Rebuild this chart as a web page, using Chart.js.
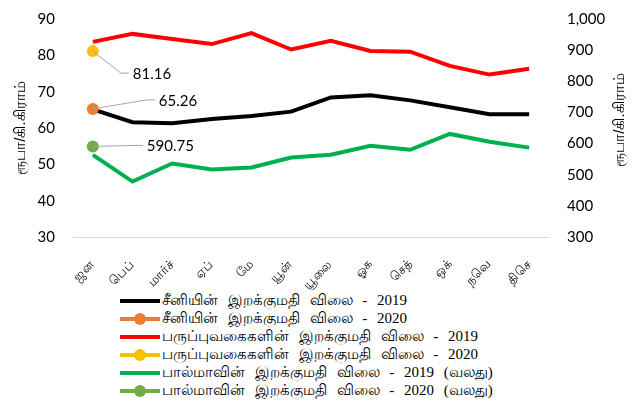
<!DOCTYPE html>
<html>
<head>
<meta charset="utf-8">
<script src="https://cdn.jsdelivr.net/npm/chart.js"></script>
<style>
  body { margin: 0; background: #fff; }
  #wrap { position: relative; width: 636px; height: 403px; }
  #box { position: absolute; left: 0; top: 0; width: 636px; height: 290px; }
  #legend { position: absolute; left: 120px; top: 292px; font: 15px "Liberation Serif", serif; color: #000; }
  .row { height: 18px; display: flex; align-items: center; white-space: nowrap; word-spacing: 6px; }
  .swatch { position: relative; width: 40px; height: 18px; margin-right: 2px; }
  .swatch .ln { position: absolute; left: 0; right: 0; top: 7px; height: 4px; }
  .swatch .dot { position: absolute; left: 14px; top: 3px; width: 12px; height: 12px; border-radius: 50%; }
</style>
</head>
<body>
<div id="wrap">
  <div id="box"><canvas id="myChart"></canvas></div>
  <div id="legend"></div>
</div>
<script>
  const months = ['ஜன', 'பெப்', 'மார்ச்', 'ஏப்', 'மே', 'யூன்', 'யூலை', 'ஓக', 'செத்', 'ஒக்', 'நவெ', 'திசெ'];
  const sugar2019 = [65.1, 61.6, 61.3, 62.5, 63.3, 64.5, 68.4, 69.0, 67.6, 65.7, 63.8, 63.8];
  const sugar2020 = [65.26, null, null, null, null, null, null, null, null, null, null, null];
  const dhal2019 = [83.7, 85.9, 84.5, 83.1, 86.1, 81.6, 84.0, 81.2, 81.0, 77.1, 74.7, 76.3];
  const dhal2020 = [81.16, null, null, null, null, null, null, null, null, null, null, null];
  const milk2019 = [564, 478, 536, 517, 523, 555, 564, 593, 580, 631, 606, 587];
  const milk2020 = [590.75, null, null, null, null, null, null, null, null, null, null, null];
  const leftTicks = [30, 40, 50, 60, 70, 80, 90];
  const rightTicks = [300, 400, 500, 600, 700, 800, 900, 1000];
  const unitLabel = 'ரூபா/கி.கிராம்';

  const tickFont = { family: 'Lato, "Open Sans", sans-serif', size: 15 };

  // leader lines + value labels for the single 2020 points
  const calloutPlugin = {
    id: 'callouts',
    afterDatasetsDraw(chart, args, opts) {
      const ctx = chart.ctx;
      ctx.save();
      opts.items.forEach(it => {
        const pt = chart.getDatasetMeta(it.dataset).data[0];
        const value = chart.data.datasets[it.dataset].data[0];
        const ex = pt.x + it.dx, ey = pt.y + it.dy;
        ctx.strokeStyle = '#a6a6a6';
        ctx.lineWidth = 1;
        ctx.beginPath();
        ctx.moveTo(pt.x, pt.y);
        ctx.lineTo(ex, ey);
        ctx.lineTo(ex + 8, ey);
        ctx.stroke();
        ctx.fillStyle = '#000';
        ctx.font = '15px Lato, "Open Sans", sans-serif';
        ctx.textBaseline = 'middle';
        ctx.fillText(String(value), ex + 12, ey + 1);
      });
      // right axis title, reading bottom to top
      const r = chart.scales.y1;
      ctx.translate(r.right - 16, (r.top + r.bottom) / 2 - 8);
      ctx.rotate(-Math.PI / 2);
      ctx.textAlign = 'center';
      ctx.textBaseline = 'middle';
      ctx.font = '15px sans-serif';
      ctx.fillStyle = '#000';
      ctx.fillText(unitLabel, 0, 0);
      ctx.restore();
    }
  };

  const line = (label, data, color, axis) => ({
    label, data, borderColor: color, backgroundColor: color, yAxisID: axis,
    borderWidth: 4, pointRadius: 0, pointHoverRadius: 0, tension: 0, order: 1
  });
  const dot = (label, data, color, axis) => ({
    label, data, borderColor: color, backgroundColor: color, yAxisID: axis,
    borderWidth: 4, pointRadius: 6, pointBorderWidth: 0, showLine: false, order: 0
  });

  const chart = new Chart(document.getElementById('myChart'), {
    type: 'line',
    data: {
      labels: months,
      datasets: [
        line('சீனியின் இறக்குமதி விலை - 2019', sugar2019, '#000000', 'y'),
        dot('சீனியின் இறக்குமதி விலை - 2020', sugar2020, '#ED7D31', 'y'),
        line('பருப்புவகைகளின் இறக்குமதி விலை - 2019', dhal2019, '#FF0000', 'y'),
        dot('பருப்புவகைகளின் இறக்குமதி விலை - 2020', dhal2020, '#FFC000', 'y'),
        line('பால்மாவின் இறக்குமதி விலை - 2019 (வலது)', milk2019, '#00B050', 'y1'),
        dot('பால்மாவின் இறக்குமதி விலை - 2020 (வலது)', milk2020, '#70AD47', 'y1')
      ]
    },
    options: {
      responsive: true,
      maintainAspectRatio: false,
      animation: false,
      layout: { padding: { top: 0, left: 0, right: 0, bottom: 0 } },
      plugins: {
        legend: { display: false },
        tooltip: { enabled: false },
        callouts: {
          items: [
            { dataset: 3, dx: 28, dy: 22 },
            { dataset: 1, dx: 54, dy: -9 },
            { dataset: 5, dx: 42, dy: -1 }
          ]
        }
      },
      scales: {
        x: {
          offset: true,
          grid: { display: false },
          border: { display: true, color: '#d9d9d9', width: 1 },
          ticks: { color: '#000', minRotation: 45, maxRotation: 45, padding: 12, font: { size: 12.5 } },
          afterFit: s => { s.height = 53; }
        },
        y: {
          position: 'left',
          min: 30, max: 90,
          afterBuildTicks: s => { s.ticks = leftTicks.map(v => ({ value: v })); },
          grid: { display: false },
          border: { display: false },
          ticks: { color: '#000', padding: 10, font: tickFont },
          title: { display: true, text: unitLabel, color: '#000', font: { size: 15 }, padding: { top: 12 } },
          afterFit: s => { s.width = 73; }
        },
        y1: {
          position: 'right',
          min: 300, max: 1000,
          afterBuildTicks: s => { s.ticks = rightTicks.map(v => ({ value: v })); },
          grid: { display: false },
          border: { display: false },
          ticks: { color: '#000', padding: 10, font: tickFont,
            callback: v => v.toLocaleString('en-US') },
          afterFit: s => { s.width = 87; }
        }
      }
    },
    plugins: [calloutPlugin]
  });

  // legend, one entry per row
  const legend = document.getElementById('legend');
  chart.data.datasets.forEach(ds => {
    const row = document.createElement('div');
    row.className = 'row';
    const sw = document.createElement('div');
    sw.className = 'swatch';
    sw.innerHTML = '<div class="ln" style="background:' + ds.borderColor + '"></div>' +
      (ds.pointRadius ? '<div class="dot" style="background:' + ds.borderColor + '"></div>' : '');
    row.appendChild(sw);
    const t = document.createElement('span');
    t.textContent = ds.label;
    row.appendChild(t);
    legend.appendChild(row);
  });
</script>
</body>
</html>
